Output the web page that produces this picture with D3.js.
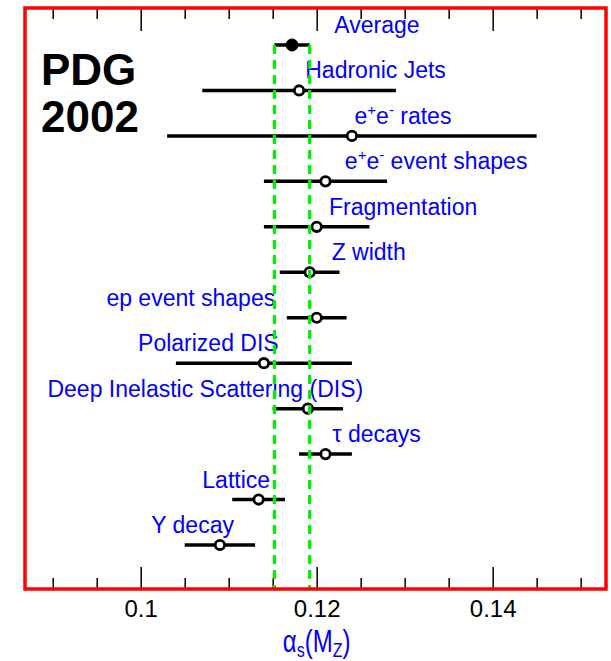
<!DOCTYPE html>
<html>
<head>
<meta charset="utf-8">
<script src="https://cdn.jsdelivr.net/npm/d3@7"></script>
<style>
body { margin: 0; background: #fff; }
text { font-family: "Liberation Sans", Arial, sans-serif; }
</style>
</head>
<body>
<div id="chart"></div>
<script>
// measurements of alpha_s(M_Z), top to bottom
var labels = ["Average", "Hadronic Jets", "e+e- rates", "e+e- event shapes", "Fragmentation",
  "Z width", "ep event shapes", "Polarized DIS", "Deep Inelastic Scattering (DIS)",
  "τ decays", "Lattice", "Υ decay"];
var values = [0.1172, 0.118, 0.124, 0.121, 0.120, 0.1192, 0.120, 0.114, 0.119, 0.121, 0.1134, 0.109];
var errors = [0.002, 0.011, 0.021, 0.007, 0.006, 0.0034, 0.0034, 0.010, 0.004, 0.003, 0.003, 0.004];
// where each label starts, in alpha_s units
var labelAt = [0.1220, 0.1187, 0.1243, 0.1232, 0.1214, 0.1217, 0.0961, 0.0997, 0.0894, 0.1218, 0.1070, 0.1012];

var majorTicks = [0.1, 0.12, 0.14];
var minorTicks = [0.09, 0.095, 0.105, 0.11, 0.115, 0.125, 0.13, 0.135, 0.145, 0.15];

var width = 611, height = 661;
var frame = {left: 25, right: 606, top: 8, bottom: 589};

var svg = d3.select("#chart").append("svg")
    .attr("width", width)
    .attr("height", height);

var x = d3.scaleLinear()
    .domain([0.08685, 0.15288])
    .range([frame.left, frame.right]);

var y = d3.scalePoint()
    .domain(labels)
    .range([45, 545]);

var rows = labels.map(function(d, i) {
  return {name: d, v: values[i], e: errors[i], lx: labelAt[i], avg: i === 0};
});

// ticks, bottom and top
var gb = svg.append("g").attr("transform", "translate(0," + frame.bottom + ")");
gb.call(d3.axisBottom(x).tickValues(majorTicks).tickSize(-22).tickPadding(11)
    .tickFormat(d3.format("")));
gb.append("g").call(d3.axisBottom(x).tickValues(minorTicks).tickSize(-11).tickFormat(""));

var gt = svg.append("g").attr("transform", "translate(0," + frame.top + ")");
gt.call(d3.axisTop(x).tickValues(majorTicks).tickSize(-23).tickFormat(""));
gt.append("g").call(d3.axisTop(x).tickValues(minorTicks).tickSize(-11).tickFormat(""));

svg.selectAll(".domain").remove();
svg.selectAll(".tick line").attr("stroke", "#000").attr("stroke-width", 1.5);
gb.selectAll(".tick text")
    .attr("font-size", 24)
    .attr("fill", "#000")
    .attr("font-family", "Liberation Sans, Arial, sans-serif");

// error bars
svg.append("g").selectAll("line")
  .data(rows)
  .enter().append("line")
    .attr("x1", function(d) { return x(d.v - d.e); })
    .attr("x2", function(d) { return x(d.v + d.e); })
    .attr("y1", function(d) { return y(d.name); })
    .attr("y2", function(d) { return y(d.name); })
    .attr("stroke", "#000")
    .attr("stroke-width", 3.5);

svg.append("g").selectAll("circle")
  .data(rows)
  .enter().append("circle")
    .attr("cx", function(d) { return x(d.v); })
    .attr("cy", function(d) { return y(d.name); })
    .attr("r", function(d) { return d.avg ? 6 : 4.7; })
    .attr("fill", function(d) { return d.avg ? "#000" : "#fff"; })
    .attr("stroke", "#000")
    .attr("stroke-width", function(d) { return d.avg ? 1 : 2.8; });

// labels, with superscripts for e+e-
var lab = svg.append("g").selectAll("text")
  .data(rows)
  .enter().append("text")
    .attr("x", function(d) { return x(d.lx); })
    .attr("y", function(d) { return y(d.name) - 12; })
    .attr("fill", "#0000ff")
    .attr("font-size", 23);

lab.each(function(d) {
  var t = d3.select(this);
  if (d.name.indexOf("e+e-") === 0) {
    t.append("tspan").text("e");
    t.append("tspan").attr("dy", -9).attr("font-size", 15).text("+");
    t.append("tspan").attr("dy", 9).text("e");
    t.append("tspan").attr("dy", -9).attr("font-size", 15).text("-");
    t.append("tspan").attr("dy", 9).text(d.name.slice(4));
  } else {
    t.text(d.name);
  }
});

// average band
var avg = rows[0];
svg.append("g").selectAll("line")
  .data([avg.v - avg.e, avg.v + avg.e])
  .enter().append("line")
    .attr("x1", function(d) { return x(d); })
    .attr("x2", function(d) { return x(d); })
    .attr("y1", y(avg.name))
    .attr("y2", frame.bottom)
    .attr("stroke", "#00f000")
    .attr("stroke-width", 3.2)
    .attr("stroke-dasharray", "9,6");

// frame
svg.append("rect")
    .attr("x", frame.left)
    .attr("y", frame.top)
    .attr("width", frame.right - frame.left)
    .attr("height", frame.bottom - frame.top)
    .attr("fill", "none")
    .attr("stroke", "#ff0000")
    .attr("stroke-width", 3.5);

// PDG 2002 stamp
svg.append("text").attr("x", 41).attr("y", 85)
    .attr("font-size", 44).attr("font-weight", "bold").text("PDG");
svg.append("text").attr("x", 41).attr("y", 131.5)
    .attr("font-size", 44).attr("font-weight", "bold").text("2002");

// axis title (tall glyphs, as in the original)
var title = svg.append("text")
    .attr("transform", "translate(" + x(0.12) + ",652) scale(1,1.3)")
    .attr("text-anchor", "middle")
    .attr("fill", "#0000ff")
    .attr("font-size", 24);
title.append("tspan").text("α");
title.append("tspan").attr("dy", 3.5).attr("font-size", 16).text("s");
title.append("tspan").attr("dy", -3.5).text("(M");
title.append("tspan").attr("dy", 3.5).attr("font-size", 16).text("Z");
title.append("tspan").attr("dy", -3.5).text(")");
</script>
</body>
</html>
